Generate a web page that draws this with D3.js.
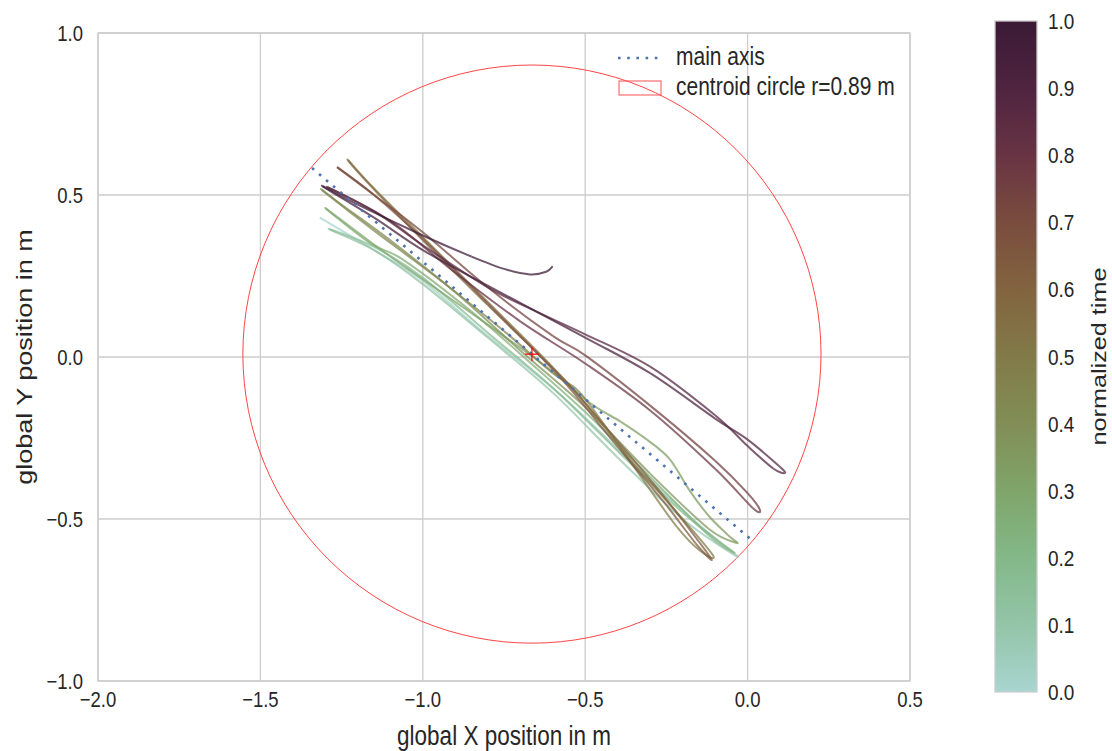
<!DOCTYPE html>
<meta charset="utf-8">
<script src="https://d3js.org/d3.v7.min.js"></script>
<style>
  body { margin: 0; background: #fff; }
  text { font-family: "Liberation Sans", Arial, sans-serif; fill: #262626; }
</style>
<div id="chart"></div>
<script>
// ticks
var xTicks = [-2.0, -1.5, -1.0, -0.5, 0.0, 0.5];
var yTicks = [-1.0, -0.5, 0.0, 0.5, 1.0];
var cbTicks = [0.0, 0.1, 0.2, 0.3, 0.4, 0.5, 0.6, 0.7, 0.8, 0.9, 1.0];
// colormap, one colour per tick
var cbColors = ["#a8d5d0", "#93c5a8", "#83b888", "#7fa56a", "#818e56", "#827a48",
                "#82643f", "#7a4c3e", "#683444", "#4f2440", "#3a1a35"];

// main axis end points and centroid circle
var mainAxis = [[-1.341, 0.583], [0.013, -0.565]];
var centroid = [-0.664, 0.009];
var circleR = 0.89;

// normalized time at each turning point of the trajectory
var legTimes = [0, 0.07, 0.14, 0.21, 0.28, 0.35, 0.42, 0.49, 0.56, 0.63, 0.70, 0.77, 0.83, 0.90, 0.96, 1.0];

// trajectory, one array per pass between the two ends (x, y in m)
var leg1 = [[-1.317,0.43],[-1.15,0.33],[-1.0,0.235],[-0.824,0.085],[-0.578,-0.115],[-0.331,-0.35],[-0.147,-0.52],[-0.03,-0.617]];
var leg2 = [[-0.03,-0.617],[-0.2,-0.50],[-0.4,-0.31],[-0.6,-0.11],[-0.8,0.06],[-1.0,0.225],[-1.15,0.33],[-1.29,0.395]];
var leg3 = [[-1.29,0.395],[-1.15,0.34],[-1.0,0.245],[-0.8,0.075],[-0.6,-0.095],[-0.4,-0.29],[-0.2,-0.48],[-0.1,-0.56],[-0.04,-0.605]];
var leg4 = [[-0.04,-0.605],[-0.12,-0.55],[-0.3,-0.37],[-0.5,-0.17],[-0.65,-0.035],[-0.85,0.14],[-1.06,0.30],[-1.16,0.35],[-1.30,0.46]];
var leg5 = [[-1.30,0.46],[-1.1,0.31],[-0.85,0.135],[-0.62,-0.03],[-0.485,-0.142],[-0.39,-0.2],[-0.31,-0.255],[-0.24,-0.315],[-0.18,-0.41],[-0.12,-0.49],[-0.06,-0.55],[-0.033,-0.574]];
var leg6 = [[-0.033,-0.574],[-0.12,-0.53],[-0.3,-0.36],[-0.5,-0.155],[-0.7,0.02],[-0.9,0.2],[-1.1,0.36],[-1.25,0.47],[-1.31,0.515]];
var leg7 = [[-1.31,0.515],[-1.15,0.39],[-0.95,0.24],[-0.75,0.08],[-0.6,-0.05],[-0.516,-0.11],[-0.393,-0.278],[-0.30,-0.41],[-0.217,-0.525],[-0.15,-0.595],[-0.105,-0.615]];
var leg8 = [[-0.105,-0.615],[-0.2,-0.50],[-0.35,-0.33],[-0.55,-0.085],[-0.8,0.17],[-1.0,0.37],[-1.15,0.52],[-1.23,0.608]];
var leg9 = [[-1.23,0.608],[-1.19,0.56],[-1.0,0.36],[-0.8,0.16],[-0.57,-0.065],[-0.40,-0.26],[-0.25,-0.44],[-0.15,-0.57],[-0.11,-0.627]];
var leg10 = [[-0.11,-0.627],[-0.16,-0.575],[-0.26,-0.445],[-0.41,-0.265],[-0.58,-0.06],[-0.8,0.165],[-1.0,0.365],[-1.15,0.5],[-1.264,0.586]];
var leg11 = [[-1.264,0.586],[-1.15,0.50],[-1.0,0.385],[-0.8,0.215],[-0.6,0.065],[-0.5,0.005],[-0.3,-0.15],[-0.1,-0.32],[0.0,-0.42],[0.038,-0.472]];
var leg12 = [[0.038,-0.472],[0.015,-0.465],[-0.1,-0.345],[-0.3,-0.165],[-0.5,-0.02],[-0.7,0.11],[-0.9,0.26],[-1.1,0.42],[-1.295,0.525]];
var leg13 = [[-1.295,0.525],[-1.15,0.45],[-1.0,0.345],[-0.8,0.215],[-0.65,0.14],[-0.5,0.07],[-0.3,-0.03],[-0.1,-0.18],[0.0,-0.275],[0.08,-0.345],[0.115,-0.358]];
var leg14 = [[0.115,-0.358],[0.095,-0.335],[0.0,-0.255],[-0.1,-0.19],[-0.3,-0.05],[-0.5,0.06],[-0.8,0.22],[-1.0,0.33],[-1.15,0.43],[-1.31,0.528]];
var leg15 = [[-1.31,0.528],[-1.2,0.47],[-1.0,0.375],[-0.85,0.31],[-0.75,0.272],[-0.67,0.255],[-0.62,0.263],[-0.6,0.28]];
var legs = [leg1, leg2, leg3, leg4, leg5, leg6, leg7, leg8, leg9, leg10, leg11, leg12, leg13, leg14, leg15];

var W = 1112, H = 751;
var plot = { left: 98, right: 910, top: 33, bottom: 681 };
var stretch = 1.2; // text in the picture is taller than it is wide

var svg = d3.select("#chart").append("svg")
  .attr("width", W).attr("height", H);

var x = d3.scaleLinear().domain([-2.0, 0.5]).range([plot.left, plot.right]);
var y = d3.scaleLinear().domain([-1.0, 1.0]).range([plot.bottom, plot.top]);
var color = d3.scaleLinear().domain(cbTicks).range(cbColors).interpolate(d3.interpolateRgb);

var fmt = function (v) { return d3.format(".1f")(v).replace("-", "\u2212"); };

// text helpers: horizontal and rotated, stretched vertically
function htext(g, px, py, str, size, anchor) {
  return g.append("text")
    .attr("transform", "translate(" + px + "," + py + ") scale(1," + stretch + ")")
    .attr("text-anchor", anchor || "start")
    .style("font-size", size + "px")
    .text(str);
}
function vtext(g, px, py, str, size) {
  return g.append("text")
    .attr("transform", "translate(" + px + "," + py + ") rotate(-90) scale(" + stretch + ",1)")
    .attr("text-anchor", "middle")
    .style("font-size", size + "px")
    .text(str);
}

// grid
svg.append("g").selectAll("line").data(xTicks).enter().append("line")
  .attr("x1", function (d) { return x(d); }).attr("x2", function (d) { return x(d); })
  .attr("y1", plot.top).attr("y2", plot.bottom)
  .style("stroke", "#cccccc").style("stroke-width", 1.3);
svg.append("g").selectAll("line").data(yTicks).enter().append("line")
  .attr("y1", function (d) { return y(d); }).attr("y2", function (d) { return y(d); })
  .attr("x1", plot.left).attr("x2", plot.right)
  .style("stroke", "#cccccc").style("stroke-width", 1.3);

// frame
svg.append("rect")
  .attr("x", plot.left).attr("y", plot.top)
  .attr("width", plot.right - plot.left).attr("height", plot.bottom - plot.top)
  .style("fill", "none").style("stroke", "#cccccc").style("stroke-width", 1.3);

// tick labels
var tg = svg.append("g");
xTicks.forEach(function (d) { htext(tg, x(d), plot.bottom + 26, fmt(d), 18.5, "middle"); });
yTicks.forEach(function (d) { htext(tg, plot.left - 15, y(d) + 8, fmt(d), 18.5, "end"); });

// axis labels
htext(svg, (plot.left + plot.right) / 2, 745, "global X position in m", 22.5, "middle");
vtext(svg, 32, (plot.top + plot.bottom) / 2, "global Y position in m", 22.5);

// centroid circle
svg.append("circle")
  .attr("cx", x(centroid[0])).attr("cy", y(centroid[1]))
  .attr("r", x(centroid[0] + circleR) - x(centroid[0]))
  .style("fill", "none").style("stroke", "#ff3030").style("stroke-width", 0.9);

// trajectory as one continuous track with time per point
var track = [];
legs.forEach(function (leg, i) {
  var t0 = legTimes[i], t1 = legTimes[i + 1];
  var cum = [0];
  for (var k = 1; k < leg.length; k++) {
    cum.push(cum[k - 1] + Math.hypot(leg[k][0] - leg[k - 1][0], leg[k][1] - leg[k - 1][1]));
  }
  var total = cum[cum.length - 1];
  leg.forEach(function (p, k) {
    if (i > 0 && k === 0) return;
    track.push({ px: x(p[0]), py: y(p[1]), t: t0 + (t1 - t0) * cum[k] / total });
  });
});

var segs = [];
for (var j = 0; j < track.length - 1; j++) {
  var p0 = track[Math.max(j - 1, 0)], p1 = track[j], p2 = track[j + 1],
      p3 = track[Math.min(j + 2, track.length - 1)];
  var d = "M" + p1.px + "," + p1.py +
    "C" + (p1.px + (p2.px - p0.px) / 6) + "," + (p1.py + (p2.py - p0.py) / 6) +
    " " + (p2.px - (p3.px - p1.px) / 6) + "," + (p2.py - (p3.py - p1.py) / 6) +
    " " + p2.px + "," + p2.py;
  segs.push({ d: d, t: (p1.t + p2.t) / 2 });
}

svg.append("g").selectAll("path").data(segs).enter().append("path")
  .attr("d", function (d) { return d.d; })
  .style("fill", "none")
  .style("stroke", function (d) { return color(d.t); })
  .style("stroke-width", 2)
  .style("stroke-opacity", 0.74);

// main axis
svg.append("line")
  .attr("x1", x(mainAxis[0][0])).attr("y1", y(mainAxis[0][1]))
  .attr("x2", x(mainAxis[1][0])).attr("y2", y(mainAxis[1][1]))
  .style("stroke", "#4c72b0").style("stroke-width", 2.6)
  .style("stroke-dasharray", "2.6,6.6");

// centroid marker
var cx = x(centroid[0]), cy = y(centroid[1]);
svg.append("path")
  .attr("d", "M" + (cx - 7) + "," + cy + "H" + (cx + 7) + "M" + cx + "," + (cy - 7) + "V" + (cy + 7))
  .style("stroke", "red").style("stroke-width", 1.2);

// legend
var lg = svg.append("g");
lg.append("line").attr("x1", 618).attr("x2", 662).attr("y1", 58).attr("y2", 58)
  .style("stroke", "#4c72b0").style("stroke-width", 2.6).style("stroke-dasharray", "2.6,6.6");
htext(lg, 676, 65, "main axis", 21);
lg.append("rect").attr("x", 619).attr("y", 81).attr("width", 42).attr("height", 14)
  .style("fill", "none").style("stroke", "#ff5050").style("stroke-width", 1);
htext(lg, 676, 95, "centroid circle r=0.89 m", 21);

// colorbar
var cb = { left: 995, right: 1037, top: 21, bottom: 692 };
var cy2 = d3.scaleLinear().domain([0, 1]).range([cb.bottom, cb.top]);
var grad = svg.append("defs").append("linearGradient")
  .attr("id", "cbgrad").attr("x1", 0).attr("y1", 1).attr("x2", 0).attr("y2", 0);
grad.selectAll("stop").data(cbTicks).enter().append("stop")
  .attr("offset", function (d) { return d; })
  .attr("stop-color", function (d, i) { return cbColors[i]; });
svg.append("rect")
  .attr("x", cb.left).attr("y", cb.top)
  .attr("width", cb.right - cb.left).attr("height", cb.bottom - cb.top)
  .style("fill", "url(#cbgrad)").style("stroke", "#cccccc").style("stroke-width", 1.3);
var cg = svg.append("g");
cbTicks.forEach(function (d) { htext(cg, cb.right + 11, cy2(d) + 8, fmt(d), 19); });
vtext(svg, 1106, (cb.top + cb.bottom) / 2, "normalized time", 21);
</script>
